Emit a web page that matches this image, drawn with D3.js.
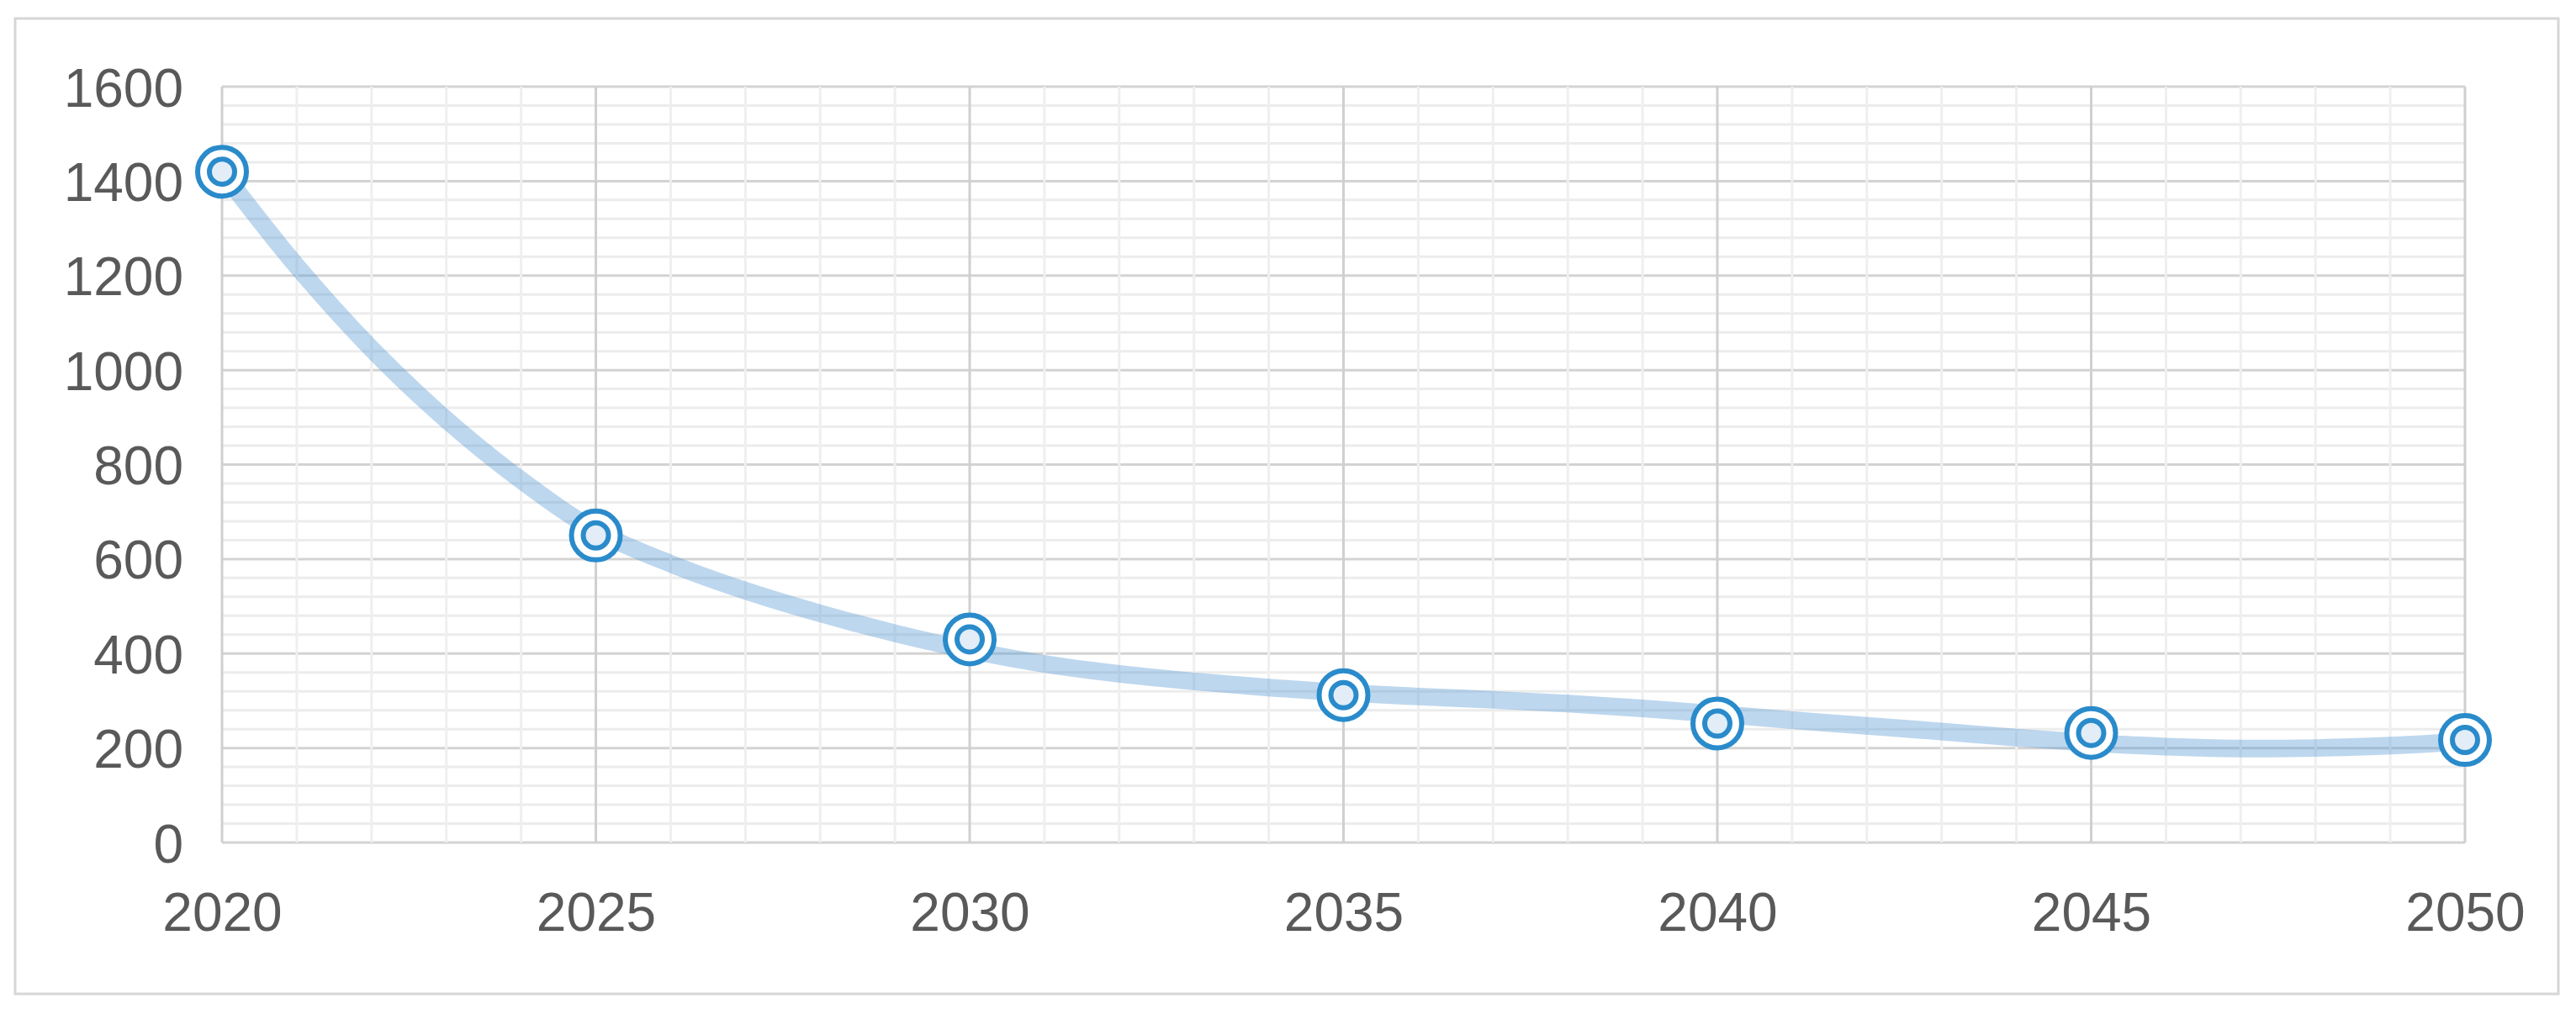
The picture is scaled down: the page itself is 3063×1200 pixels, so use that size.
<!DOCTYPE html>
<html>
<head>
<meta charset="utf-8">
<script src="https://cdn.jsdelivr.net/npm/d3@7"></script>
<style>
  html, body { margin: 0; padding: 0; background: #ffffff; }
  svg { display: block; }
</style>
</head>
<body>
<svg id="chart" width="3063" height="1200"></svg>
<script>
// ---- data ----
const years = [2020, 2025, 2030, 2035, 2040, 2045, 2050];
const values = [1420, 650, 430, 312, 252, 232, 217];

// smoothed light-blue line
const lineYears = [2020, 2021, 2022, 2023, 2024, 2025, 2026, 2027, 2028, 2029, 2030,
                   2031, 2032, 2033, 2034, 2035, 2036, 2037, 2038, 2039, 2040,
                   2041, 2042, 2043, 2044, 2045, 2046, 2047, 2048, 2049, 2050];
const lineValues = [1420, 1220, 1045, 895, 767, 660, 590, 533, 485, 443, 407,
                    378, 357, 341, 328, 317, 309, 302, 294, 284, 272,
                    259, 247, 235, 222, 211, 203, 199, 200, 205, 214];

const xTicks = [2020, 2025, 2030, 2035, 2040, 2045, 2050];
const yTicks = [0, 200, 400, 600, 800, 1000, 1200, 1400, 1600];
const xMinorTicks = [2021, 2022, 2023, 2024, 2026, 2027, 2028, 2029, 2031, 2032, 2033, 2034,
                     2036, 2037, 2038, 2039, 2041, 2042, 2043, 2044, 2046, 2047, 2048, 2049];
const yMinorTicks = [40, 80, 120, 160, 240, 280, 320, 360, 440, 480, 520, 560,
                     640, 680, 720, 760, 840, 880, 920, 960, 1040, 1080, 1120, 1160,
                     1240, 1280, 1320, 1360, 1440, 1480, 1520, 1560];

// ---- layout ----
const plot = { left: 264, right: 2931, top: 103, bottom: 1002 };
const svg = d3.select("#chart");

const x = d3.scaleLinear().domain([2020, 2050]).range([plot.left, plot.right]);
const y = d3.scaleLinear().domain([0, 1600]).range([plot.bottom, plot.top]);

// outer frame
svg.append("rect")
  .attr("x", 18).attr("y", 22)
  .attr("width", 3024).attr("height", 1160)
  .attr("fill", "#ffffff")
  .attr("stroke", "#d6d6d6")
  .attr("stroke-width", 3);

const grid = svg.append("g");

// horizontal minor gridlines
grid.selectAll("line.hmin").data(yMinorTicks).join("line")
  .attr("class", "hmin")
  .attr("x1", plot.left).attr("x2", plot.right)
  .attr("y1", d => y(d)).attr("y2", d => y(d))
  .attr("stroke", "#ececec").attr("stroke-width", 3);

// horizontal major gridlines
grid.selectAll("line.hmaj").data(yTicks).join("line")
  .attr("class", "hmaj")
  .attr("x1", plot.left).attr("x2", plot.right)
  .attr("y1", d => y(d)).attr("y2", d => y(d))
  .attr("stroke", "#d3d3d3").attr("stroke-width", 3);

// vertical minor gridlines (drawn over, giving the broken look)
grid.selectAll("line.vmin").data(xMinorTicks).join("line")
  .attr("class", "vmin")
  .attr("x1", d => x(d)).attr("x2", d => x(d))
  .attr("y1", plot.top).attr("y2", plot.bottom)
  .attr("stroke", "#efefef").attr("stroke-width", 3);

// vertical major gridlines
grid.selectAll("line.vmaj").data(xTicks).join("line")
  .attr("class", "vmaj")
  .attr("x1", d => x(d)).attr("x2", d => x(d))
  .attr("y1", plot.top).attr("y2", plot.bottom)
  .attr("stroke", "#d0d0d0").attr("stroke-width", 3);

// axes (labels only; lines are the gridlines above)
const font = "'Liberation Sans', Arial, Helvetica, sans-serif";

const yAxis = d3.axisLeft(y).tickValues(yTicks).tickSize(0).tickPadding(46).tickFormat(d3.format("d"));
const gy = svg.append("g").attr("transform", `translate(${plot.left},0)`).call(yAxis);
gy.select(".domain").remove();
gy.selectAll("text")
  .attr("font-family", font).attr("font-size", 64).attr("fill", "#595959")
  .attr("dy", "0.36em");

const xAxis = d3.axisBottom(x).tickValues(xTicks).tickSize(0).tickPadding(60).tickFormat(d3.format("d"));
const gx = svg.append("g").attr("transform", `translate(0,${plot.bottom})`).call(xAxis);
gx.select(".domain").remove();
gx.selectAll("text")
  .attr("font-family", font).attr("font-size", 64).attr("fill", "#595959")
  .attr("dy", "0.71em");

// smoothed line
const lineData = lineYears.map((yr, i) => ({ yr, v: lineValues[i] }));
const line = d3.line()
  .x(d => x(d.yr)).y(d => y(d.v))
  .curve(d3.curveCatmullRom.alpha(0.5));
svg.append("path")
  .datum(lineData)
  .attr("d", line)
  .attr("fill", "none")
  .attr("stroke", "#5b9bd5")
  .attr("stroke-opacity", 0.4)
  .attr("stroke-width", 21)
  .attr("stroke-linecap", "round");

// markers: double rings
const pts = years.map((yr, i) => ({ yr, v: values[i] }));
const mk = svg.append("g").selectAll("g").data(pts).join("g")
  .attr("transform", d => `translate(${x(d.yr)},${y(d.v)})`);
mk.append("circle")
  .attr("r", 29)
  .attr("fill", "#ffffff")
  .attr("stroke", "#2a8bcb")
  .attr("stroke-width", 6);
mk.append("circle")
  .attr("r", 15)
  .attr("fill", "#e2edf7")
  .attr("stroke", "#2a8bcb")
  .attr("stroke-width", 6);
</script>
</body>
</html>
